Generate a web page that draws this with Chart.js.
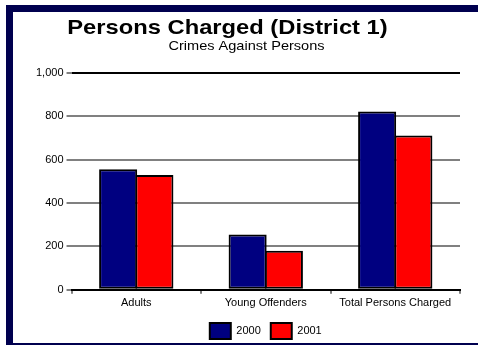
<!DOCTYPE html>
<html>
<head>
<meta charset="utf-8">
<script src="https://cdn.jsdelivr.net/npm/chart.js@4/dist/chart.umd.min.js"></script>
<style>
  body { margin: 0; background: #ffffff; }
  #wrap { position: relative; width: 478px; height: 346px; overflow: hidden; }
  canvas { position: absolute; left: 0; top: 0; }
  .frame { position: absolute; background: #00004f; }
</style>
</head>
<body>
<div id="wrap">
  <canvas id="chart" width="478" height="346"></canvas>
  <div class="frame" style="left:6px; top:5px; width:472px; height:7px;"></div>
  <div class="frame" style="left:6px; top:5px; width:7px; height:340px;"></div>
  <div class="frame" style="left:6px; top:343px; width:472px; height:2px;"></div>
</div>
<script>
// Chart data
const categories = ['Adults', 'Young Offenders', 'Total Persons Charged'];
const seriesNames = ['2000', '2001'];
const values2000 = [556, 255, 822];
const values2001 = [530, 180, 712];
const yTicks = [0, 200, 400, 600, 800, 1000];

const chartTitle = 'Persons Charged (District 1)';
const chartSubtitle = 'Crimes Against Persons';

const FONT = 'Arial, "Liberation Sans", sans-serif';

// Title + subtitle drawn by hand so they can sit off-centre like the original
const titlePlugin = {
    id: 'titles',
    afterDraw(chart) {
        const ctx = chart.ctx;
        ctx.save();
        ctx.fillStyle = '#000000';
        ctx.textAlign = 'center';
        ctx.textBaseline = 'alphabetic';

        ctx.save();
        ctx.translate(227.5, 34);
        ctx.scale(1.13, 1);
        ctx.font = 'bold 21px ' + FONT;
        ctx.fillText(chartTitle, 0, 0);
        ctx.restore();

        ctx.save();
        ctx.translate(246.5, 50);
        ctx.scale(1.12, 1);
        ctx.font = '13px ' + FONT;
        ctx.fillText(chartSubtitle, 0, 0);
        ctx.restore();

        ctx.restore();
    }
};

const ctx = document.getElementById('chart').getContext('2d');
const personsChart = new Chart(ctx, {
    type: 'bar',
    data: {
        labels: categories,
        datasets: [
            {
                label: seriesNames[0],
                data: values2000,
                backgroundColor: '#000080',
                borderColor: '#000000',
                borderWidth: 2,
                borderSkipped: false,
                inflateAmount: 0
            },
            {
                label: seriesNames[1],
                data: values2001,
                backgroundColor: '#ff0000',
                borderColor: '#000000',
                borderWidth: 2,
                borderSkipped: false,
                inflateAmount: 0
            }
        ]
    },
    options: {
        responsive: false,
        animation: false,
        categoryPercentage: 0.56,
        barPercentage: 1.05,   // slight overlap so neighbouring bars share one border
        layout: {
            padding: { top: 73, left: 33, right: 18, bottom: -3 }
        },
        plugins: {
            title: { display: false },
            tooltip: { enabled: false },
            legend: {
                display: true,
                position: 'bottom',
                fullSize: false,
                labels: {
                    color: '#000000',
                    font: { family: FONT, size: 11 },
                    boxWidth: 21,
                    boxHeight: 16,
                    padding: 10
                }
            }
        },
        scales: {
            x: {
                grid: {
                    display: true,
                    drawOnChartArea: false,
                    drawTicks: true,
                    tickLength: 4,
                    tickColor: '#808080',
                    lineWidth: 2,
                    offset: true
                },
                border: { display: true, color: '#000000', width: 2 },
                ticks: {
                    color: '#000000',
                    font: { family: FONT, size: 11 },
                    padding: 3,
                    maxRotation: 0,
                    autoSkip: false
                }
            },
            y: {
                min: 0,
                max: 1000,
                afterBuildTicks: axis => {
                    axis.ticks = yTicks.map(v => ({ value: v }));
                },
                grid: {
                    color: c => (c.tick && (c.tick.value === 1000 || c.tick.value === 0)) ? '#000000' : '#808080',
                    tickColor: '#808080',
                    lineWidth: 2,
                    tickLength: 5
                },
                border: { display: false },
                ticks: {
                    color: '#000000',
                    font: { family: FONT, size: 11 },
                    padding: 3,
                    callback: v => v.toLocaleString('en-US')
                }
            }
        }
    },
    plugins: [titlePlugin]
});
</script>
</body>
</html>
